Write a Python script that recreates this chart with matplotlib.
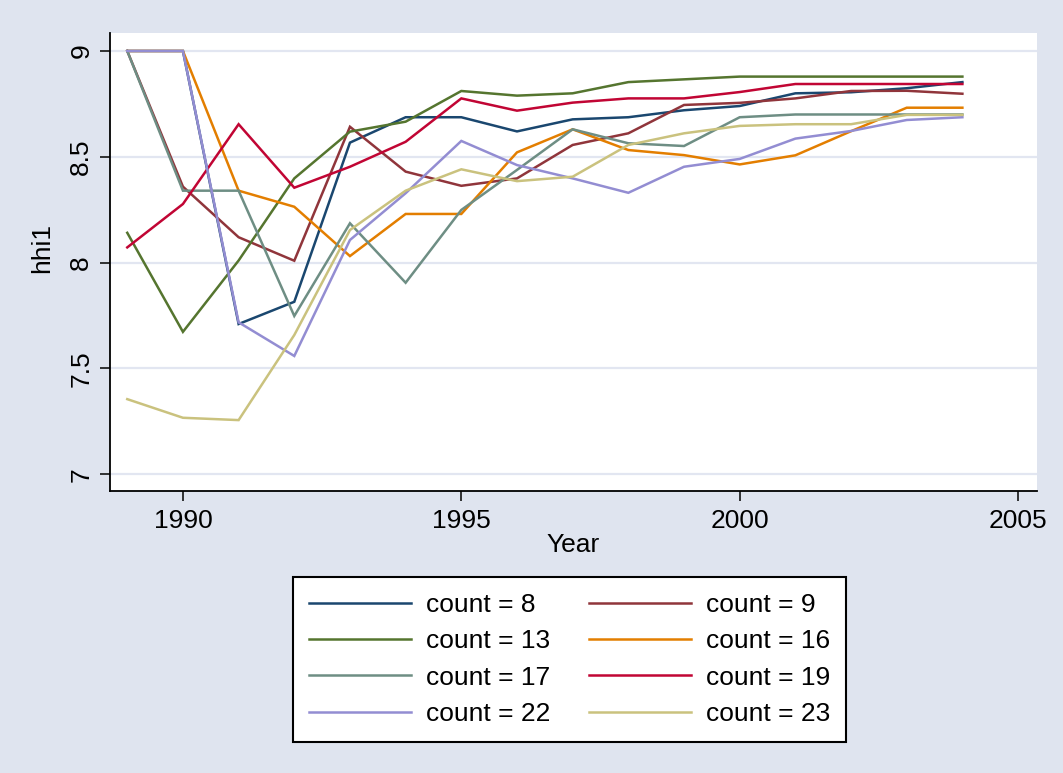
import matplotlib
matplotlib.use("Agg")
import matplotlib.pyplot as plt
from matplotlib.lines import Line2D

plt.rcParams['font.family'] = ['Liberation Sans', 'DejaVu Sans']

years = list(range(1989, 2005))
c8 = [9, 9, 7.71, 7.815, 8.567, 8.687, 8.687, 8.62, 8.677, 8.687, 8.72, 8.74, 8.80, 8.805, 8.824, 8.853]
c9 = [9, 8.359, 8.12, 8.009, 8.642, 8.43, 8.363, 8.398, 8.556, 8.611, 8.745, 8.755, 8.776, 8.811, 8.812, 8.798]
c13 = [8.141, 7.673, 8.01, 8.398, 8.619, 8.666, 8.811, 8.789, 8.8, 8.853, 8.866, 8.879, 8.879, 8.879, 8.879, 8.879]
c16 = [9, 9, 8.34, 8.264, 8.031, 8.23, 8.23, 8.521, 8.63, 8.532, 8.508, 8.464, 8.507, 8.621, 8.732, 8.732]
c17 = [9, 8.34, 8.34, 7.748, 8.186, 7.905, 8.249, 8.438, 8.63, 8.564, 8.551, 8.687, 8.70, 8.70, 8.70, 8.70]
c19 = [8.072, 8.277, 8.654, 8.354, 8.453, 8.571, 8.776, 8.718, 8.756, 8.776, 8.776, 8.806, 8.844, 8.844, 8.844, 8.844]
c22 = [9, 9, 7.718, 7.559, 8.107, 8.328, 8.575, 8.461, 8.398, 8.33, 8.453, 8.49, 8.586, 8.622, 8.674, 8.687]
c23 = [7.355, 7.267, 7.256, 7.658, 8.154, 8.34, 8.441, 8.385, 8.406, 8.556, 8.611, 8.646, 8.654, 8.654, 8.698, 8.698]

series = [("count = 8", c8), ("count = 9", c9), ("count = 13", c13), ("count = 16", c16),
          ("count = 17", c17), ("count = 19", c19), ("count = 22", c22), ("count = 23", c23)]
colors = ["#1a476f", "#90353b", "#55752f", "#e37e00", "#6e8e84", "#c10534", "#938dd2", "#cac27e"]

xticks = [1990, 1995, 2000, 2005]
yticks = [7, 7.5, 8, 8.5, 9]
ytick_labels = ["7", "7.5", "8", "8.5", "9"]

FS = 19
bg = "#dfe4ef"
fig = plt.figure(figsize=(10.63, 7.73), dpi=100, facecolor=bg)
ax = fig.add_axes([110/1063, 1-491/773, 927/1063, 458/773])
ax.set_facecolor("white")

for (lab, vals), col in zip(series, colors):
    ax.plot(years, vals, color=col, lw=1.8, label=lab, solid_joinstyle='miter')

ax.set_xlim(1988.69, 2005.34)
ax.set_ylim(6.921, 9.085)
ax.set_xticks(xticks)
ax.set_yticks(yticks)
ax.set_yticklabels(ytick_labels, rotation=90, va='center')
ax.grid(axis='y', color="#e2e6f1", lw=1.6)
ax.set_axisbelow(True)
for s in ['top', 'right']:
    ax.spines[s].set_visible(False)
for s in ['left', 'bottom']:
    ax.spines[s].set_linewidth(1.3)
    ax.spines[s].set_color('black')
ax.tick_params(axis='both', direction='out', length=7, width=1.1, labelsize=FS)
ax.tick_params(axis='x', pad=6)
ax.tick_params(axis='y', pad=5)

ax.set_xlabel("Year", fontsize=FS, labelpad=0)
ax.set_ylabel("hhi1", fontsize=FS)
ax.yaxis.set_label_coords(-0.060, 0.53)

order = [0, 2, 4, 6, 1, 3, 5, 7]
handles = [Line2D([0], [0], color=colors[i], lw=1.8) for i in order]
labels = [series[i][0] for i in order]
leg = fig.legend(handles, labels, ncol=2, loc='upper center',
                 bbox_to_anchor=(569.5/1063, 1-577/773), fontsize=FS,
                 frameon=True, fancybox=False, edgecolor='black', framealpha=1,
                 handlelength=3.86, handletextpad=0.57, columnspacing=1.45,
                 labelspacing=0.47, borderpad=0.6, borderaxespad=0)
leg.get_frame().set_linewidth(1.5)

fig.savefig("out.png", dpi=100, facecolor=bg)
